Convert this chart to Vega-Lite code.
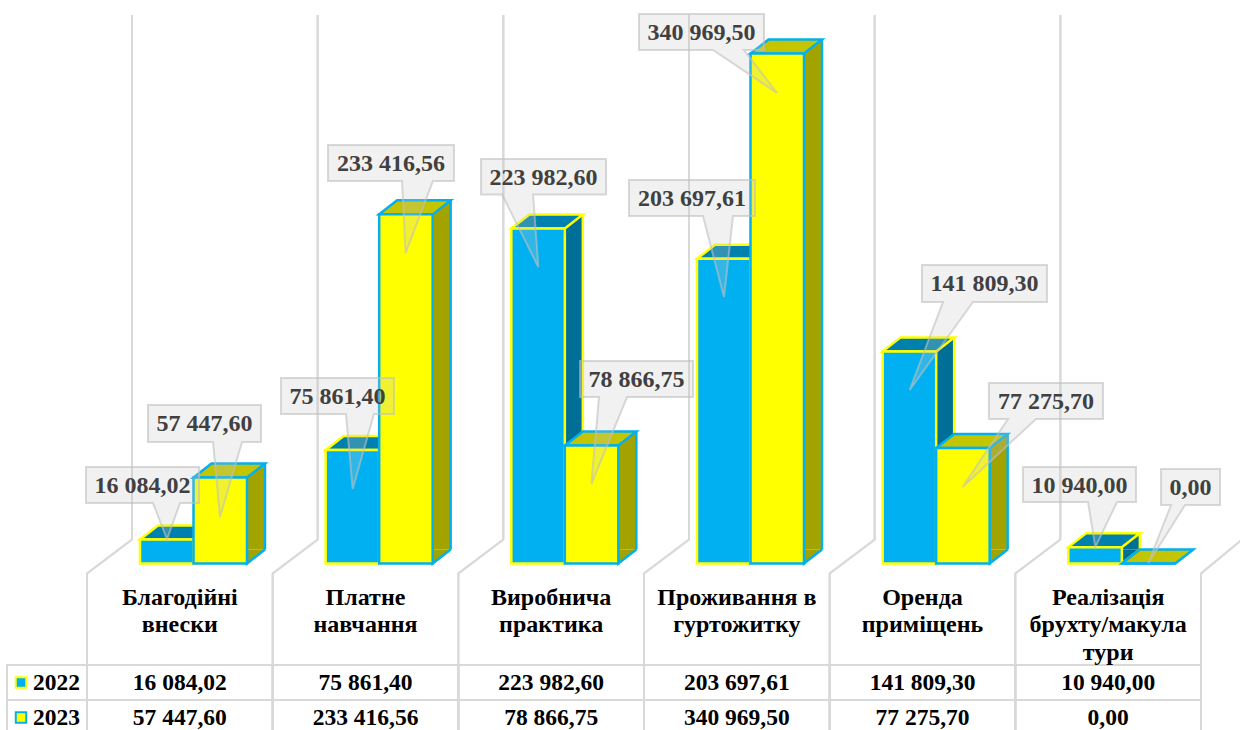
{
"$schema":"https://vega.github.io/schema/vega-lite/v6.json",
"width":1240,"height":730,"padding":0,"autosize":{"type":"none"},"background":"white",
"config":{"view":{"stroke":null},"locale":{"number":{"decimal":",","thousands":" ","grouping":[3],"currency":["",""]}},"text":{"font":"Liberation Serif","fontWeight":"bold"}},
"data":{"values":[
{"cat":"Благодійні\nвнески","year":"2022","value":16084.02},
{"cat":"Платне\nнавчання","year":"2022","value":75861.40},
{"cat":"Виробнича\nпрактика","year":"2022","value":223982.60},
{"cat":"Проживання в\nгуртожитку","year":"2022","value":203697.61},
{"cat":"Оренда\nприміщень","year":"2022","value":141809.30},
{"cat":"Реалізація\nбрухту/макула\nтури","year":"2022","value":10940.00},
{"cat":"Благодійні\nвнески","year":"2023","value":57447.60},
{"cat":"Платне\nнавчання","year":"2023","value":233416.56},
{"cat":"Виробнича\nпрактика","year":"2023","value":78866.75},
{"cat":"Проживання в\nгуртожитку","year":"2023","value":340969.50},
{"cat":"Оренда\nприміщень","year":"2023","value":77275.70},
{"cat":"Реалізація\nбрухту/макула\nтури","year":"2023","value":0.00}
]},
"encoding":{"x":{"field":"cat","type":"nominal","axis":null,"scale":{"type":"band","domain":["Благодійні\nвнески","Платне\nнавчання","Виробнича\nпрактика","Проживання в\nгуртожитку","Оренда\nприміщень","Реалізація\nбрухту/макула\nтури"],"range":[87,1201],"paddingInner":0,"paddingOuter":0}}},
"resolve":{"scale":{"y":"independent"}},
"layer":[
{"encoding":{"y":{"field":"year","type":"nominal","axis":null,"scale":{"type":"band","domain":["2022","2023"],"range":[665,735],"paddingInner":0,"paddingOuter":0}}},
 "layer":[
 {"mark":{"type":"rect","fillOpacity":0,"fill":"white","stroke":"#d9d9d9","strokeWidth":2}},
 {"transform":[{"filter":"indexof(datum.cat,'Благодійні')===0"}],"mark":{"type":"rect","width":80,"xOffset":-132.83,"fillOpacity":0,"fill":"white","stroke":"#d9d9d9","strokeWidth":2}},
 {"mark":{"type":"text","fontSize":23.5,"color":"black"},"encoding":{"text":{"field":"value","type":"quantitative","format":",.2f"}}},
 {"transform":[{"filter":"indexof(datum.cat,'Благодійні')===0"}],"mark":{"type":"text","fontSize":23.5,"color":"black","xOffset":-123.3},"encoding":{"text":{"field":"year","type":"nominal"}}},
 {"transform":[{"filter":"indexof(datum.cat,'Благодійні')===0 && datum.year==='2022'"}],"mark":{"type":"point","shape":"square","size":110,"filled":true,"opacity":1,"fill":"#00b0f0","stroke":"#ffff00","strokeWidth":2,"xOffset":-158.83}},
 {"transform":[{"filter":"indexof(datum.cat,'Благодійні')===0 && datum.year==='2023'"}],"mark":{"type":"point","shape":"square","size":110,"filled":true,"opacity":1,"fill":"#ffff00","stroke":"#00b0f0","strokeWidth":2,"xOffset":-158.83}}
 ]},
{"encoding":{"y":{"field":"value","type":"quantitative","axis":null,"scale":{"domain":[0,366700],"range":[563.5,15],"nice":false,"zero":false}}},
 "layer":[
 {"mark":{"type":"point","shape":"M45,-548.5 L45,-24 L0,10 L0,170","size":4,"filled":false,"opacity":1,"stroke":"#d9d9d9","strokeWidth":2},"encoding":{"x":{"field":"cat","type":"nominal","bandPosition":0},"y":{"datum":0}}},
 {"transform":[{"filter":"indexof(datum.cat,'Реалізація')===0"}],"mark":{"type":"point","shape":"M40,-23 L0,10 L0,170","size":4,"filled":false,"opacity":1,"stroke":"#d9d9d9","strokeWidth":2},"encoding":{"x":{"field":"cat","type":"nominal","bandPosition":1},"y":{"datum":0}}},
 {"transform":[{"filter":"datum.year==='2022'"}],"layer":[
  {"mark":{"type":"bar","width":18,"xOffset":22.67,"yOffset":-14,"y2Offset":-14,"fill":"#006f98"},"encoding":{"y2":{"datum":0}}},
  {"mark":{"type":"point","shape":"M0,-14 L0,0 L18,-14","size":4,"filled":true,"opacity":1,"fill":"#006f98","stroke":"#ffff00","strokeWidth":2.5,"xOffset":13.67},"encoding":{"y":{"datum":0}}},
  {"mark":{"type":"rule","stroke":"#ffff00","strokeWidth":2.5,"xOffset":31.67,"yOffset":-14,"y2Offset":-14},"encoding":{"y2":{"datum":0}}},
  {"mark":{"type":"point","shape":"M0,0 L53.5,0 L71.5,-14 L18,-14 Z","size":4,"filled":true,"opacity":1,"fill":"#0080ae","stroke":"#ffff00","strokeWidth":2.5,"xOffset":-39.83}},
  {"mark":{"type":"bar","width":53.5,"xOffset":-13.08,"fill":"#00b0f0","stroke":"#ffff00","strokeWidth":2.5}}
 ]},
 {"transform":[{"filter":"datum.year==='2023'"}],"layer":[
  {"transform":[{"filter":"datum.value>0"}],"layer":[
   {"mark":{"type":"bar","width":18,"xOffset":76.17,"yOffset":-14,"y2Offset":-14,"fill":"#a3a300"},"encoding":{"y2":{"datum":0}}},
   {"mark":{"type":"point","shape":"M0,-14 L0,0 L18,-14","size":4,"filled":true,"opacity":1,"fill":"#a3a300","stroke":"#00b0f0","strokeWidth":2.5,"xOffset":67.17},"encoding":{"y":{"datum":0}}},
   {"mark":{"type":"rule","stroke":"#00b0f0","strokeWidth":2.5,"xOffset":85.17,"yOffset":-14,"y2Offset":-14},"encoding":{"y2":{"datum":0}}}
  ]},
  {"mark":{"type":"point","shape":"M0,0 L53.5,0 L71.5,-14 L18,-14 Z","size":4,"filled":true,"opacity":1,"fill":"#c4c400","stroke":"#00b0f0","strokeWidth":2.5,"xOffset":13.67}},
  {"mark":{"type":"bar","width":53.5,"xOffset":40.42,"fill":"#ffff00","stroke":"#00b0f0","strokeWidth":2.5}}
 ]},
 {"transform":[{"filter":"datum.year==='2022'"}],"mark":{"type":"text","baseline":"top","lineBreak":"\n","lineHeight":27.5,"fontSize":24,"color":"black","yOffset":0.5},"encoding":{"y":{"datum":-14500},"text":{"field":"cat","type":"nominal"}}},

 {"transform":[{"filter":"datum.value===16084.02"}],"layer":[
  {"mark":{"type":"point","shape":"M-81,-72.4 L32,-72.4 L32,-36.4 L13,-36.4 L0,-0.4 L-14,-36.4 L-81,-36.4 Z","size":4,"filled":true,"opacity":1,"fill":"#c8c8c8","fillOpacity":0.25,"stroke":"#bfbfbf","strokeOpacity":0.6,"strokeWidth":2,"xOffset":-12.83}},
  {"mark":{"type":"text","fontSize":24,"color":"#404040","xOffset":-12.83,"dx":-24.5,"dy":-53.4},"encoding":{"text":{"field":"value","type":"quantitative","format":",.2f"}}}]},
 {"transform":[{"filter":"datum.value===57447.6"}],"layer":[
  {"mark":{"type":"point","shape":"M-72,-72.6 L41,-72.6 L41,-35.6 L22,-35.6 L0,39.4 L-7,-35.6 L-72,-35.6 Z","size":4,"filled":true,"opacity":1,"fill":"#c8c8c8","fillOpacity":0.25,"stroke":"#bfbfbf","strokeOpacity":0.6,"strokeWidth":2,"xOffset":40.17}},
  {"mark":{"type":"text","fontSize":24,"color":"#404040","xOffset":40.17,"dx":-15.5,"dy":-53.1},"encoding":{"text":{"field":"value","type":"quantitative","format":",.2f"}}}]},
 {"transform":[{"filter":"datum.value===75861.4"}],"layer":[
  {"mark":{"type":"point","shape":"M-71.7,-72 L41.3,-72 L41.3,-36 L21.3,-36 L0,39 L-6.7,-36 L-71.7,-36 Z","size":4,"filled":true,"opacity":1,"fill":"#c8c8c8","fillOpacity":0.25,"stroke":"#bfbfbf","strokeOpacity":0.6,"strokeWidth":2,"xOffset":-12.83}},
  {"mark":{"type":"text","fontSize":24,"color":"#404040","xOffset":-12.83,"dx":-15.2,"dy":-53},"encoding":{"text":{"field":"value","type":"quantitative","format":",.2f"}}}]},
 {"transform":[{"filter":"datum.value===233416.56"}],"layer":[
  {"mark":{"type":"point","shape":"M-77.7,-69.4 L48.3,-69.4 L48.3,-33.4 L27.3,-33.4 L0,38.6 L-3.7,-33.4 L-77.7,-33.4 Z","size":4,"filled":true,"opacity":1,"fill":"#c8c8c8","fillOpacity":0.25,"stroke":"#bfbfbf","strokeOpacity":0.6,"strokeWidth":2,"xOffset":40.17}},
  {"mark":{"type":"text","fontSize":24,"color":"#404040","xOffset":40.17,"dx":-14.7,"dy":-50.4},"encoding":{"text":{"field":"value","type":"quantitative","format":",.2f"}}}]},
 {"transform":[{"filter":"datum.value===223982.6"}],"layer":[
  {"mark":{"type":"point","shape":"M-57.3,-69.5 L67.7,-69.5 L67.7,-34 L-5.3,-34 L0,38.5 L-36.3,-34 L-57.3,-34 Z","size":4,"filled":true,"opacity":1,"fill":"#c8c8c8","fillOpacity":0.25,"stroke":"#bfbfbf","strokeOpacity":0.6,"strokeWidth":2,"xOffset":-12.83}},
  {"mark":{"type":"text","fontSize":24,"color":"#404040","xOffset":-12.83,"dx":5.2,"dy":-50.7},"encoding":{"text":{"field":"value","type":"quantitative","format":",.2f"}}}]},
 {"transform":[{"filter":"datum.value===78866.75"}],"layer":[
  {"mark":{"type":"point","shape":"M-11.3,-84.5 L101.7,-84.5 L101.7,-48.5 L35.7,-48.5 L0,38.5 L7.7,-48.5 L-11.3,-48.5 Z","size":4,"filled":true,"opacity":1,"fill":"#c8c8c8","fillOpacity":0.25,"stroke":"#bfbfbf","strokeOpacity":0.6,"strokeWidth":2,"xOffset":40.17}},
  {"mark":{"type":"text","fontSize":24,"color":"#404040","xOffset":40.17,"dx":45.2,"dy":-65.5},"encoding":{"text":{"field":"value","type":"quantitative","format":",.2f"}}}]},
 {"transform":[{"filter":"datum.value===203697.61"}],"layer":[
  {"mark":{"type":"point","shape":"M-95,-78.8 L31,-78.8 L31,-42.8 L9,-42.8 L0,38.2 L-21,-42.8 L-95,-42.8 Z","size":4,"filled":true,"opacity":1,"fill":"#c8c8c8","fillOpacity":0.25,"stroke":"#bfbfbf","strokeOpacity":0.6,"strokeWidth":2,"xOffset":-12.83}},
  {"mark":{"type":"text","fontSize":24,"color":"#404040","xOffset":-12.83,"dx":-32,"dy":-59.8},"encoding":{"text":{"field":"value","type":"quantitative","format":",.2f"}}}]},
 {"transform":[{"filter":"datum.value===340969.5"}],"layer":[
  {"mark":{"type":"point","shape":"M-138,-39.5 L-13,-39.5 L-13,-3.5 L-33,-3.5 L0,39.5 L-64,-3.5 L-138,-3.5 Z","size":4,"filled":true,"opacity":1,"fill":"#c8c8c8","fillOpacity":0.25,"stroke":"#bfbfbf","strokeOpacity":0.6,"strokeWidth":2,"xOffset":40.17}},
  {"mark":{"type":"text","fontSize":24,"color":"#404040","xOffset":40.17,"dx":-75.5,"dy":-20.5},"encoding":{"text":{"field":"value","type":"quantitative","format":",.2f"}}}]},
 {"transform":[{"filter":"datum.value===141809.3"}],"layer":[
  {"mark":{"type":"point","shape":"M12.3,-86.4 L137.3,-86.4 L137.3,-49.4 L63.3,-49.4 L0,38.6 L33.3,-49.4 L12.3,-49.4 Z","size":4,"filled":true,"opacity":1,"fill":"#c8c8c8","fillOpacity":0.25,"stroke":"#bfbfbf","strokeOpacity":0.6,"strokeWidth":2,"xOffset":-12.83}},
  {"mark":{"type":"text","fontSize":24,"color":"#404040","xOffset":-12.83,"dx":74.8,"dy":-66.9},"encoding":{"text":{"field":"value","type":"quantitative","format":",.2f"}}}]},
 {"transform":[{"filter":"datum.value===77275.7"}],"layer":[
  {"mark":{"type":"point","shape":"M26.3,-64.9 L140.3,-64.9 L140.3,-28.9 L73.3,-28.9 L0,39.1 L45.3,-28.9 L26.3,-28.9 Z","size":4,"filled":true,"opacity":1,"fill":"#c8c8c8","fillOpacity":0.25,"stroke":"#bfbfbf","strokeOpacity":0.6,"strokeWidth":2,"xOffset":40.17}},
  {"mark":{"type":"text","fontSize":24,"color":"#404040","xOffset":40.17,"dx":83.3,"dy":-45.9},"encoding":{"text":{"field":"value","type":"quantitative","format":",.2f"}}}]},
 {"transform":[{"filter":"datum.value===10940"}],"layer":[
  {"mark":{"type":"point","shape":"M-72.3,-80.1 L40.7,-80.1 L40.7,-45.1 L21.7,-45.1 L0,-0.1 L-7.3,-45.1 L-72.3,-45.1 Z","size":4,"filled":true,"opacity":1,"fill":"#c8c8c8","fillOpacity":0.25,"stroke":"#bfbfbf","strokeOpacity":0.6,"strokeWidth":2,"xOffset":-12.83}},
  {"mark":{"type":"text","fontSize":24,"color":"#404040","xOffset":-12.83,"dx":-15.8,"dy":-61.6},"encoding":{"text":{"field":"value","type":"quantitative","format":",.2f"}}}]},
 {"transform":[{"filter":"datum.value===0"}],"layer":[
  {"mark":{"type":"point","shape":"M12.7,-94.5 L71.7,-94.5 L71.7,-58.5 L36.7,-58.5 L0,-0.5 L22.7,-58.5 L12.7,-58.5 Z","size":4,"filled":true,"opacity":1,"fill":"#c8c8c8","fillOpacity":0.25,"stroke":"#bfbfbf","strokeOpacity":0.6,"strokeWidth":2,"xOffset":40.17}},
  {"mark":{"type":"text","fontSize":24,"color":"#404040","xOffset":40.17,"dx":42.2,"dy":-75.5},"encoding":{"text":{"field":"value","type":"quantitative","format":",.2f"}}}]}
 ]}
]
}
